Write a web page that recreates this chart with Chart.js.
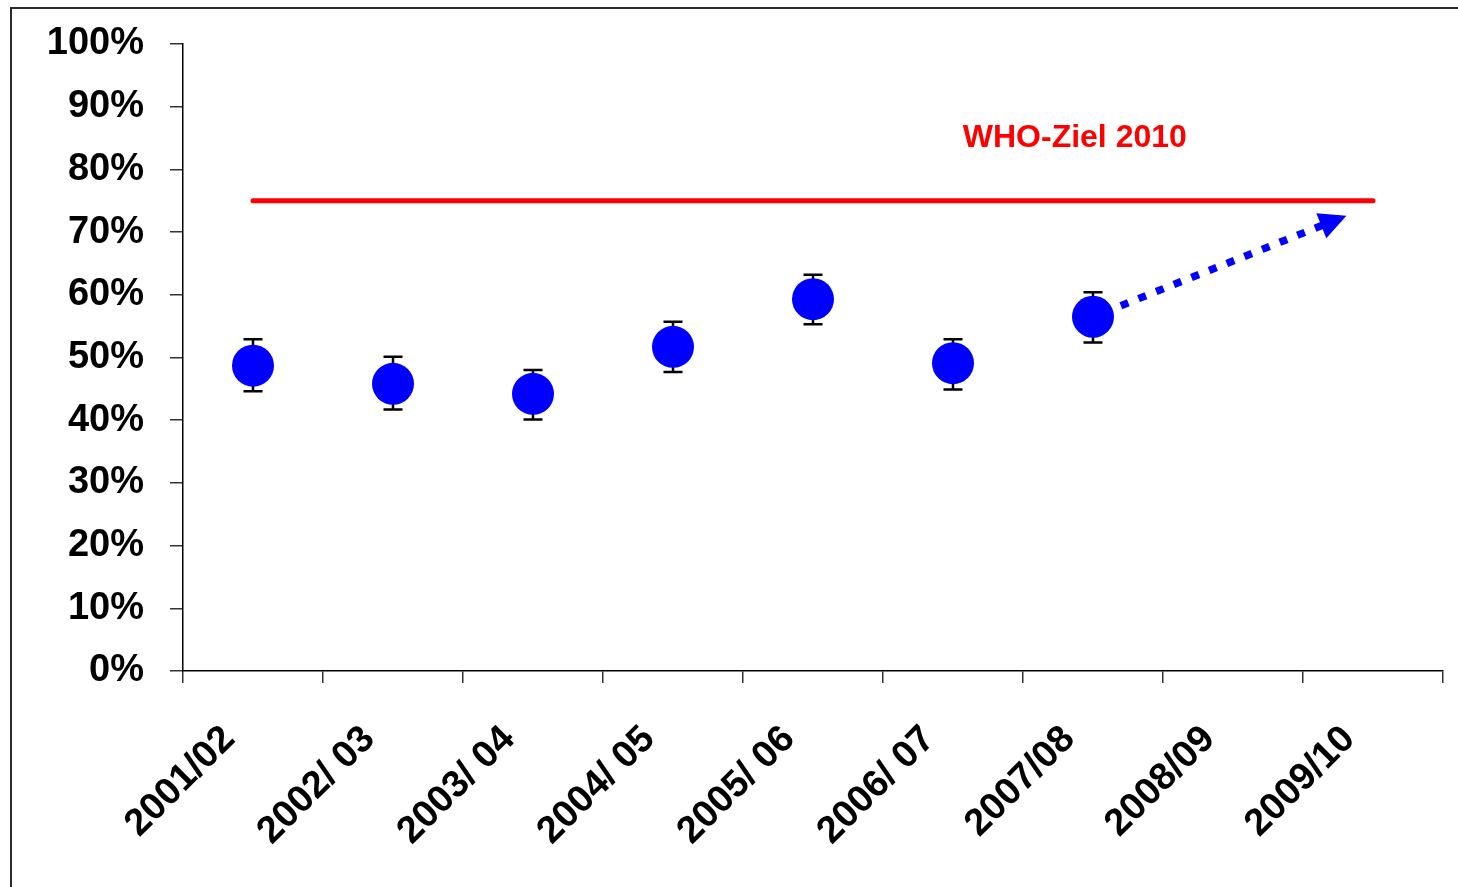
<!DOCTYPE html>
<html>
<head>
<meta charset="utf-8">
<script src="https://cdn.jsdelivr.net/npm/chart.js@4/dist/chart.umd.min.js"></script>
<style>
  body { margin: 0; background: #fff; }
  #wrap { position: relative; width: 1458px; height: 887px; overflow: hidden; }
  #frame { position: absolute; left: 10px; top: 7px; right: -5px; bottom: -5px;
           border-top: 2px solid #2a2a2a; border-left: 2px solid #2a2a2a; pointer-events: none; }
</style>
</head>
<body>
<div id="wrap">
  <canvas id="rateChart" width="1458" height="887"></canvas>
  <div id="frame"></div>
</div>
<script>
// seasons on the x axis
var seasons = ["2001/02", "2002/ 03", "2003/ 04", "2004/ 05", "2005/ 06", "2006/ 07", "2007/08", "2008/09", "2009/10"];
// measured rate per season (%) with error bar ends
var rateValues = [48.7, 45.8, 44.2, 51.7, 59.3, 49.1, 56.5];
var errUpper = [52.9, 50.1, 48.0, 55.7, 63.2, 52.9, 60.4];
var errLower = [44.6, 41.7, 40.1, 47.7, 55.3, 44.9, 52.4];
// WHO target line
var targetValue = 75;
var targetLabel = "WHO-Ziel 2010";
// dotted trend arrow (x as season index)
var trendX = [6, 7.81];
var trendY = [56.5, 72.6];

var FONT = "'Liberation Sans', Arial, sans-serif";

var errorBars = {
  id: "errorBars",
  beforeDatasetsDraw: function (chart) {
    var ctx = chart.ctx, x = chart.scales.x, y = chart.scales.y;
    ctx.save();
    ctx.strokeStyle = "#000";
    ctx.lineWidth = 2.5;
    for (var i = 0; i < rateValues.length; i++) {
      var px = x.getPixelForValue(i);
      var top = y.getPixelForValue(errUpper[i]);
      var bot = y.getPixelForValue(errLower[i]);
      ctx.beginPath();
      ctx.moveTo(px, top); ctx.lineTo(px, bot);
      ctx.moveTo(px - 9.5, top); ctx.lineTo(px + 9.5, top);
      ctx.moveTo(px - 9.5, bot); ctx.lineTo(px + 9.5, bot);
      ctx.stroke();
    }
    ctx.restore();
  },
  afterDatasetsDraw: function (chart) {
    var ctx = chart.ctx;
    // arrow head at end of the trend line
    var pts = chart.getDatasetMeta(2).data;
    var a = pts[pts.length - 2], b = pts[pts.length - 1];
    var ang = Math.atan2(b.y - a.y, b.x - a.x);
    var len = 27, half = 13.5;
    ctx.save();
    ctx.translate(b.x, b.y);
    ctx.rotate(ang);
    ctx.fillStyle = "#0000FF";
    ctx.beginPath();
    ctx.moveTo(0, 0);
    ctx.lineTo(-len, -half);
    ctx.lineTo(-len, half);
    ctx.closePath();
    ctx.fill();
    ctx.restore();
    // target label
    ctx.save();
    ctx.fillStyle = "#FF0000";
    ctx.font = "bold 32px " + FONT;
    ctx.textAlign = "center";
    ctx.textBaseline = "middle";
    ctx.fillText(targetLabel, chart.scales.x.getPixelForValue(5.87), chart.scales.y.getPixelForValue(85));
    ctx.restore();
  }
};

new Chart(document.getElementById("rateChart").getContext("2d"), {
  type: "line",
  data: {
    labels: seasons,
    datasets: [
      {
        label: "Rate",
        data: rateValues,
        showLine: false,
        pointRadius: 21,
        pointBackgroundColor: "#0000FF",
        pointBorderWidth: 0,
        order: 0
      },
      {
        label: targetLabel,
        data: [{ x: seasons[0], y: targetValue }, { x: seasons[seasons.length - 1], y: targetValue }],
        borderColor: "#FF0000",
        borderWidth: 5,
        borderCapStyle: "round",
        pointRadius: 0,
        order: 2
      },
      {
        label: "Trend",
        xAxisID: "xTrend",
        data: trendX.map(function (v, i) { return { x: v, y: trendY[i] }; }),
        borderColor: "#0000FF",
        borderWidth: 7.5,
        borderDash: [8, 11],
        borderDashOffset: 8,
        borderCapStyle: "butt",
        pointRadius: 0,
        order: 1
      }
    ]
  },
  options: {
    responsive: false,
    animation: false,
    layout: { autoPadding: false, padding: { top: 44, right: 15, left: 0, bottom: 0 } },
    plugins: { legend: { display: false }, tooltip: { enabled: false } },
    scales: {
      x: {
        type: "category",
        offset: true,
        grid: { offset: true, drawOnChartArea: false, drawTicks: true, tickLength: 12, color: "#333", lineWidth: 1.5 },
        border: { display: true, color: "#000", width: 1.5 },
        ticks: {
          autoSkip: false, maxRotation: 45, minRotation: 45,
          padding: 34, labelOffset: -24,
          color: "#000", font: { family: FONT, size: 38, weight: "bold" }
        },
        afterFit: function (s) {
          s.height = 216;
          s.paddingLeft = 0; s.paddingRight = 0; s.paddingTop = 0; s.paddingBottom = 0;
        }
      },
      xTrend: { type: "linear", display: false, min: -0.5, max: 8.5 },
      y: {
        min: 0, max: 100,
        grid: { drawOnChartArea: false, drawTicks: true, tickLength: 13, color: "#333", lineWidth: 1.5 },
        border: { display: true, color: "#000", width: 1.5 },
        ticks: {
          stepSize: 10, padding: 26, color: "#000",
          font: { family: FONT, size: 38, weight: "bold" },
          callback: function (v) { return v + "%"; }
        },
        afterFit: function (s) {
          s.width = 183;
          s.paddingLeft = 0; s.paddingRight = 0; s.paddingTop = 0; s.paddingBottom = 0;
        }
      }
    }
  },
  plugins: [errorBars]
});
</script>
</body>
</html>
